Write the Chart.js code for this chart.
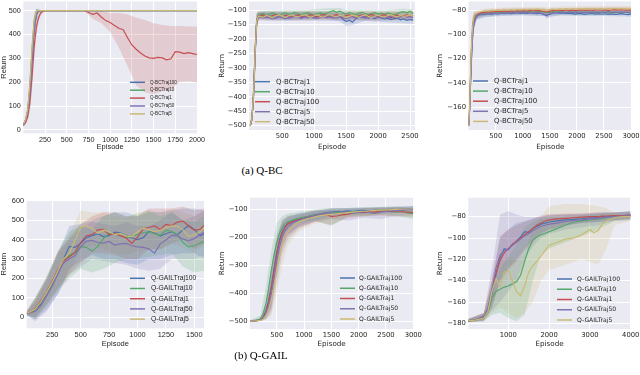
<!DOCTYPE html>
<html>
<head>
<meta charset="utf-8">
<script src="https://cdn.jsdelivr.net/npm/chart.js@4.4.1/dist/chart.umd.min.js"></script>
<style>
  body { margin: 0; background: #fff; width: 640px; height: 375px; overflow: hidden; position: relative; }
  canvas { position: absolute; }
  .cap { position: absolute; font-family: 'Liberation Serif', 'Times New Roman', serif; font-size: 11px; color: #000; transform: translate(-50%, -50%); white-space: nowrap; }
</style>
</head>
<body>
<canvas id="c1"></canvas>
<canvas id="c2"></canvas>
<canvas id="c3"></canvas>
<canvas id="c4"></canvas>
<canvas id="c5"></canvas>
<canvas id="c6"></canvas>
<div class="cap" style="left:262px; top:170px">(a) Q-BC</div>
<div class="cap" style="left:261px; top:355px">(b) Q-GAIL</div>
<script>
// Cores (paleta "deep" do seaborn)
const blue = '#4C72B0', green = '#55A868', red = '#C44E52', purple = '#8172B2', yellow = '#CCB974';

// ---------- (a) Q-BC, painel 1 ----------
const bcCartX = [0, 25, 50, 75, 100, 125, 150, 175, 200, 225, 250, 300, 400, 500, 600, 700,
  750, 800, 850, 900, 950, 1000, 1050, 1100, 1150, 1200, 1250, 1300, 1350, 1400, 1450,
  1500, 1550, 1600, 1650, 1700, 1750, 1800, 1850, 1900, 1950, 2000];
const bcCart100 = [18, 35, 70, 160, 300, 430, 485, 498, 500, 500,
  500, 500, 500, 500, 500, 500, 500, 500, 500, 500,
  500, 500, 500, 500, 500, 500, 500, 500, 500, 500,
  500, 500, 500, 500, 500, 500, 500, 500, 500, 500, 500, 500];
const bcCart10 = [20, 38, 80, 180, 330, 455, 495, 500, 500, 500,
  500, 500, 500, 500, 500, 500, 500, 500, 500, 500,
  500, 500, 500, 500, 500, 500, 500, 500, 500, 500,
  500, 500, 500, 500, 500, 500, 500, 500, 500, 500, 500, 500];
const bcCart1 = [20, 30, 55, 110, 220, 350, 430, 470, 490, 497,
  500, 500, 500, 500, 500, 500, 492, 484, 490, 472,
  458, 450, 438, 426, 420, 386, 356, 338, 322, 310,
  302, 300, 304, 302, 294, 298, 328, 326, 320, 324, 320, 316];
const bcCart50 = [25, 40, 75, 150, 280, 410, 480, 498, 500, 500,
  500, 500, 500, 500, 500, 500, 500, 500, 500, 500,
  500, 500, 500, 500, 500, 500, 500, 500, 500, 500,
  500, 500, 500, 500, 500, 500, 500, 500, 500, 500, 500, 500];
const bcCart5 = [22, 40, 85, 190, 340, 460, 498, 500, 500, 500,
  500, 500, 500, 500, 500, 500, 500, 500, 500, 500,
  500, 500, 500, 500, 500, 500, 500, 500, 500, 500,
  500, 500, 500, 500, 500, 500, 500, 500, 500, 500, 500, 500];
const bcCartBandX = [0, 25, 50, 75, 100, 125, 150, 175, 200, 250, 700, 750, 800, 900, 1000,
  1100, 1200, 1300, 1400, 1500, 1600, 1700, 1800, 1900, 2000];
const bcCart100Lo = [13, 27, 52, 125, 255, 390, 465, 492, 500, 500, 500, 500, 500, 500, 500, 500, 500, 500, 500, 500, 500, 500, 500, 500, 500];
const bcCart100Hi = [23, 45, 92, 200, 345, 470, 508, 505, 500, 500, 500, 500, 500, 500, 500, 500, 500, 500, 500, 500, 500, 500, 500, 500, 500];
const bcCart10Lo = [15, 30, 60, 145, 290, 425, 485, 497, 500, 500, 500, 500, 500, 500, 500, 500, 500, 500, 500, 500, 500, 500, 500, 500, 500];
const bcCart10Hi = [25, 46, 100, 215, 370, 485, 505, 503, 500, 500, 500, 500, 500, 500, 500, 500, 500, 500, 500, 500, 500, 500, 500, 500, 500];
const bcCart1Lo = [15, 22, 38, 75, 165, 290, 395, 450, 478, 500, 500, 482, 466, 447, 410, 345, 268, 188, 158, 150, 162, 168, 202, 204, 199];
const bcCart1Hi = [25, 38, 72, 145, 275, 410, 465, 490, 502, 500, 500, 500, 500, 500, 490, 490, 485, 470, 460, 447, 440, 435, 435, 433, 433];
const bcCart50Lo = [18, 30, 55, 115, 235, 370, 460, 490, 500, 500, 500, 500, 500, 500, 500, 500, 500, 500, 500, 500, 500, 500, 500, 500, 500];
const bcCart50Hi = [32, 50, 95, 185, 325, 450, 505, 508, 502, 500, 500, 500, 500, 500, 500, 500, 500, 500, 500, 500, 500, 500, 500, 500, 500];
const bcCart5Lo = [16, 30, 65, 155, 300, 430, 488, 498, 500, 500, 500, 500, 500, 500, 500, 500, 500, 500, 500, 500, 500, 500, 500, 500, 500];
const bcCart5Hi = [28, 50, 105, 225, 380, 490, 508, 503, 500, 500, 500, 500, 500, 500, 500, 500, 500, 500, 500, 500, 500, 500, 500, 500, 500];
const bcCartXTicks = [250, 500, 750, 1000, 1250, 1500, 1750, 2000];
const bcCartYTicks = [0, 100, 200, 300, 400, 500];

// ---------- (a) Q-BC, painel 2 ----------
const bcMountX = [0, 25, 50, 75, 100, 125,
  150, 200, 250, 300, 350, 400, 450, 500, 550, 600, 650, 700, 750, 800,
  850, 900, 950, 1000, 1050, 1100, 1150, 1200, 1250, 1300, 1350, 1400, 1450, 1500,
  1550, 1600, 1650, 1700, 1750, 1800, 1850, 1900, 1950, 2000, 2050, 2100, 2150, 2200,
  2250, 2300, 2350, 2400, 2450, 2500, 2550];
const bcMount1 = [-500, -478, -400, -255, -140, -122,
  -118, -122, -126, -120, -124, -128, -122,
  -125, -130, -124, -120, -118, -122, -126,
  -121, -119, -124, -128, -122, -120, -125,
  -121, -118, -124, -127, -122, -132, -140,
  -135, -142, -130, -126, -124, -128, -122,
  -126, -130, -124, -127, -131, -128, -133,
  -130, -128, -134, -131, -136, -133, -135];
const bcMount10 = [-500, -475, -392, -245, -134, -118,
  -116, -112, -118, -114, -110, -116, -119,
  -113, -110, -115, -112, -108, -113, -117,
  -112, -109, -114, -118, -113, -110, -115,
  -111, -106, -102, -108, -104, -110, -114,
  -109, -112, -116, -111, -108, -113, -117,
  -112, -109, -114, -111, -115, -110, -113,
  -117, -112, -108, -106, -110, -104, -112];
const bcMount100 = [-500, -476, -396, -250, -137, -121,
  -120, -117, -121, -125, -119, -116, -121,
  -124, -118, -121, -126, -120, -117, -122,
  -125, -119, -116, -121, -124, -118, -115,
  -120, -124, -119, -116, -121, -125, -119,
  -117, -122, -126, -120, -117, -123, -119,
  -115, -120, -124, -119, -116, -122, -127,
  -121, -118, -123, -120, -117, -122, -119];
const bcMount5 = [-500, -480, -405, -262, -145, -126,
  -124, -128, -123, -127, -131, -125, -122,
  -127, -124, -129, -126, -122, -126, -129,
  -124, -127, -123, -126, -130, -125, -122,
  -127, -124, -128, -125, -122, -126, -130,
  -126, -123, -127, -124, -121, -125, -129,
  -124, -122, -126, -123, -127, -124, -121,
  -125, -128, -124, -121, -125, -123, -126];
const bcMount50 = [-500, -477, -398, -252, -138, -122,
  -121, -125, -119, -122, -126, -120, -117,
  -122, -126, -120, -117, -121, -124, -119,
  -116, -121, -125, -120, -117, -122, -125,
  -119, -116, -121, -124, -118, -121, -126,
  -122, -118, -121, -125, -120, -117, -122,
  -126, -121, -118, -122, -125, -119, -116,
  -121, -124, -119, -122, -120, -117, -121];
const bcMountBandX = [0, 25, 50, 75, 100, 125, 150, 300, 600, 900, 1200, 1400, 1500, 1600, 1800, 2100, 2400, 2550];
const bcMount1Lo = [-500, -495, -440, -320, -170, -135, -130, -135, -136, -134, -133, -140, -155, -152, -138, -142, -146, -148];
const bcMount1Hi = [-495, -450, -350, -200, -115, -108, -106, -106, -108, -106, -105, -110, -118, -115, -112, -115, -118, -120];
const bcMount10Lo = [-500, -495, -440, -320, -165, -130, -128, -126, -125, -124, -122, -120, -124, -124, -125, -125, -122, -124];
const bcMount10Hi = [-495, -450, -350, -200, -110, -104, -103, -102, -100, -100, -94, -93, -100, -100, -100, -101, -96, -98];
const bcMount100Lo = [-500, -495, -440, -320, -170, -135, -132, -133, -134, -132, -132, -135, -133, -134, -135, -134, -135, -133];
const bcMount100Hi = [-495, -450, -350, -200, -112, -106, -106, -105, -106, -104, -106, -108, -105, -106, -105, -106, -104, -105];
const bcMount5Lo = [-500, -495, -440, -320, -172, -138, -136, -138, -137, -138, -138, -137, -140, -137, -137, -137, -135, -137];
const bcMount5Hi = [-495, -450, -350, -200, -114, -110, -110, -112, -112, -112, -112, -111, -114, -111, -110, -111, -108, -110];
const bcMount50Lo = [-500, -495, -440, -320, -170, -134, -132, -134, -133, -133, -131, -132, -135, -132, -133, -134, -133, -132];
const bcMount50Hi = [-495, -450, -350, -200, -112, -106, -108, -108, -106, -106, -105, -106, -110, -106, -106, -108, -106, -106];
const bcMountXTicks = [500, 1000, 1500, 2000, 2500];
const bcMountYTicks = [-100, -150, -200, -250, -300, -350, -400, -450, -500];

// ---------- (a) Q-BC, painel 3 ----------
const bcAcroX = [0, 20, 40, 60, 80, 100, 120, 150,
  180, 240, 300, 360, 420, 480, 540, 600, 660, 720, 780, 840, 900, 960, 1020, 1080,
  1140, 1200, 1260, 1320, 1380, 1440, 1500, 1560, 1620, 1680, 1740, 1800, 1860, 1920,
  1980, 2040, 2100, 2160, 2220, 2280, 2340, 2400, 2460, 2520, 2580, 2640, 2700, 2760,
  2820, 2880, 2940, 3000];
const bcAcro1 = [-175, -160, -132, -110, -96, -90, -87, -85.2,
  -84.2, -83.6, -83.9, -83.1, -83.5, -82.8, -83.2, -82.6,
  -83.0, -82.4, -82.9, -82.5, -82.1, -82.7, -82.3, -82.8,
  -82.2, -82.6, -82.9, -82.4, -83.6, -84.6, -83.4, -82.6,
  -82.2, -82.7, -82.3, -82.8, -82.5, -82.9, -83.3, -82.8,
  -83.2, -83.6, -83.1, -82.7, -83.3, -83.0, -83.5, -83.1,
  -83.6, -83.2, -83.7, -83.4, -83.0, -83.5, -83.8, -83.4];
const bcAcro10 = [-175, -158, -128, -106, -93, -88, -85.6, -84.2,
  -83.4, -82.9, -82.5, -82.8, -82.2, -82.0, -82.4, -81.8,
  -82.1, -81.6, -81.9, -81.5, -81.8, -81.4, -81.7, -81.3,
  -81.6, -81.9, -81.5, -81.2, -81.6, -82.2, -81.8, -81.4,
  -81.7, -81.3, -81.6, -81.9, -81.5, -81.8, -82.1, -81.7,
  -82.0, -81.6, -81.9, -82.3, -81.8, -82.1, -81.7, -82.0,
  -82.4, -81.9, -82.2, -81.8, -82.1, -81.7, -82.0, -81.8];
const bcAcro100 = [-175, -157, -126, -104, -92, -87, -84.8, -83.6,
  -83.0, -82.2, -81.9, -81.5, -81.8, -81.2, -81.0, -81.4,
  -80.9, -81.2, -80.7, -81.0, -80.6, -80.9, -80.5, -80.8,
  -80.4, -80.7, -80.3, -80.6, -81.2, -81.8, -80.9, -80.5,
  -80.2, -80.6, -80.3, -80.0, -80.4, -80.1, -80.5, -80.2,
  -79.9, -80.3, -80.0, -80.4, -80.1, -79.8, -80.2, -79.9,
  -80.3, -80.0, -79.7, -80.1, -79.8, -80.2, -79.9, -80.1];
const bcAcro5 = [-175, -161, -134, -112, -97, -91, -87.8, -85.6,
  -83.8, -83.2, -83.5, -82.9, -83.2, -82.6, -82.9, -82.4,
  -82.7, -82.2, -82.5, -82.0, -82.4, -81.9, -82.3, -81.8,
  -82.2, -82.5, -82.0, -82.4, -83.2, -84.0, -83.0, -82.3,
  -81.9, -82.3, -81.8, -82.1, -81.7, -82.0, -81.6, -82.0,
  -81.7, -82.1, -81.8, -81.5, -81.9, -81.6, -82.0, -81.7,
  -81.4, -81.8, -81.5, -81.9, -81.6, -82.0, -81.7, -81.9];
const bcAcro50 = [-175, -156, -124, -102, -90, -85.5, -83.6, -82.8,
  -82.0, -81.2, -80.6, -80.9, -80.3, -80.6, -80.1, -80.4,
  -79.9, -80.2, -79.8, -80.1, -79.6, -79.9, -79.5, -79.8,
  -79.4, -79.7, -79.3, -79.6, -79.9, -80.3, -79.7, -79.3,
  -79.6, -79.2, -79.5, -79.1, -79.4, -79.0, -79.3, -78.9,
  -79.2, -78.8, -79.1, -78.7, -79.0, -79.3, -78.9, -79.2,
  -78.8, -79.1, -78.7, -79.0, -78.6, -78.9, -79.2, -78.8];
const bcAcroBandX = [0, 20, 40, 60, 80, 100, 150, 300, 600, 1000, 1400, 1450, 1500, 1700, 2000, 2500, 3000];
const bcAcro1Lo = [-177, -168, -145, -122, -104, -95, -87.5, -86, -85, -84.5, -85, -87, -85.5, -84.5, -85, -85, -85.5];
const bcAcro1Hi = [-173, -150, -118, -98, -88, -84, -83, -82, -81, -80.5, -81, -82, -81.5, -80.5, -81, -81.2, -81.5];
const bcAcro10Lo = [-177, -166, -141, -118, -101, -93, -86.5, -84.5, -83.8, -83.5, -83.5, -84.2, -83.8, -83.5, -83.8, -84, -84];
const bcAcro10Hi = [-173, -148, -114, -94, -86, -83, -82, -80.5, -80, -79.5, -79.8, -80.3, -80, -79.8, -80, -80.2, -80];
const bcAcro100Lo = [-177, -165, -139, -116, -99, -92, -85.5, -83.5, -82.8, -82.5, -82.5, -83.5, -82.8, -82.2, -82, -81.8, -81.8];
const bcAcro100Hi = [-173, -147, -112, -92, -85, -82, -81.5, -80, -79, -78.5, -78.5, -79.5, -79, -78.4, -78.2, -78, -78];
const bcAcro5Lo = [-177, -168, -147, -124, -105, -96, -88, -85.5, -84.5, -84, -85, -86.5, -85.5, -84, -83.8, -83.5, -83.5];
const bcAcro5Hi = [-173, -151, -120, -99, -89, -85, -83.2, -81.5, -80.5, -80, -80.5, -81.5, -80.8, -79.8, -79.6, -79.5, -79.5];
const bcAcro50Lo = [-177, -164, -137, -114, -97, -90, -84.5, -82.5, -81.8, -81.2, -81, -82, -81.5, -80.8, -80.6, -80.5, -80.5];
const bcAcro50Hi = [-173, -146, -110, -90, -83, -80.5, -80.5, -78.8, -78, -77.5, -77.3, -78.2, -77.8, -77.2, -77, -76.8, -76.6];
const bcAcroXTicks = [500, 1000, 1500, 2000, 2500, 3000];
const bcAcroYTicks = [-80, -100, -120, -140, -160];

// ---------- (b) Q-GAIL, painel 4 ----------
const gailCartX = [25, 50, 100, 150, 200, 250, 300, 350, 400, 450, 500, 550, 600, 650, 700, 750,
  800, 850, 900, 950, 1000, 1050, 1100, 1150, 1200, 1250, 1300, 1350, 1400, 1450, 1500, 1550, 1590];
const gailCart100 = [20, 22, 35, 68, 115, 165, 225, 300, 365, 360, 380, 410, 420, 430, 415, 420,
  438, 435, 420, 408, 400, 410, 442, 435, 418, 430, 440, 425, 450, 472, 452, 420, 430];
const gailCart10 = [20, 23, 40, 78, 125, 175, 240, 295, 320, 330, 365, 360, 340, 365, 405, 432,
  428, 420, 410, 418, 425, 435, 440, 430, 422, 448, 442, 425, 385, 362, 368, 382, 390];
const gailCart1 = [22, 25, 45, 85, 130, 185, 245, 290, 310, 335, 385, 420, 425, 450, 452, 425,
  430, 420, 408, 380, 412, 455, 462, 470, 452, 478, 472, 490, 495, 470, 448, 452, 475];
const gailCart50 = [20, 22, 30, 60, 110, 160, 225, 280, 300, 318, 362, 392, 396, 385, 382, 390,
  372, 378, 380, 368, 362, 360, 352, 330, 378, 398, 422, 420, 402, 395, 405, 425, 440];
const gailCart5 = [22, 26, 42, 80, 128, 180, 240, 300, 330, 395, 462, 470, 458, 432, 448, 440,
  425, 432, 418, 415, 440, 458, 452, 440, 448, 462, 470, 468, 450, 415, 425, 440, 465];
const gailCartBandX = [25, 100, 200, 300, 400, 500, 600, 700, 800, 900, 1000, 1100, 1200, 1300, 1400, 1500, 1590];
const gailCart100Lo = [10, -10, 40, 120, 250, 290, 320, 300, 300, 280, 270, 300, 300, 320, 330, 330, 300];
const gailCart100Hi = [30, 90, 200, 330, 470, 480, 500, 520, 540, 540, 520, 540, 540, 550, 560, 560, 550];
const gailCart10Lo = [10, -10, 60, 140, 200, 250, 230, 250, 280, 300, 300, 310, 320, 330, 260, 230, 240];
const gailCart10Hi = [30, 100, 210, 340, 440, 470, 450, 520, 540, 520, 530, 550, 520, 540, 500, 490, 520];
const gailCart1Lo = [10, 0, 70, 150, 220, 280, 330, 330, 320, 300, 300, 350, 350, 380, 400, 350, 380];
const gailCart1Hi = [35, 100, 200, 340, 410, 480, 520, 540, 540, 520, 520, 560, 560, 560, 570, 550, 560];
const gailCart50Lo = [10, -20, 30, 120, 220, 260, 300, 290, 280, 270, 250, 240, 250, 300, 300, 300, 320];
const gailCart50Hi = [30, 80, 190, 330, 400, 460, 490, 480, 470, 490, 470, 470, 500, 540, 500, 520, 550];
const gailCart5Lo = [10, 0, 60, 140, 230, 350, 370, 350, 330, 320, 340, 350, 350, 380, 360, 330, 370];
const gailCart5Hi = [35, 100, 210, 340, 430, 550, 540, 540, 520, 510, 540, 550, 540, 560, 540, 520, 550];
const gailCartXTicks = [250, 500, 750, 1000, 1250, 1500];
const gailCartYTicks = [0, 100, 200, 300, 400, 500, 600];

// ---------- (b) Q-GAIL, painel 5 ----------
const gailMountX = [0, 100, 200, 250, 300, 350, 400, 450, 500, 550, 600, 650, 700, 800, 900, 1000,
  1100, 1200, 1300, 1400, 1500, 1600, 1700, 1800, 1900, 2000, 2100, 2200, 2300, 2400, 2500,
  2600, 2700, 2800, 2900, 3000];
const gailMount100 = [-500, -500, -496, -488, -465, -430, -380, -315, -255, -210, -180, -162, -152, -142, -136, -130,
  -124, -120, -116, -112, -110, -108, -109, -106, -108, -105, -104, -106, -103, -104, -102,
  -100, -101, -99, -98, -97];
const gailMount10 = [-500, -499, -492, -475, -440, -385, -320, -265, -220, -188, -165, -152, -145, -138, -132, -128,
  -125, -122, -118, -114, -112, -110, -115, -112, -108, -112, -110, -108, -112, -106, -105,
  -108, -110, -106, -114, -116];
const gailMount1 = [-500, -500, -497, -490, -470, -435, -385, -322, -262, -215, -185, -165, -153, -144, -138, -132,
  -128, -124, -120, -118, -126, -124, -120, -118, -112, -110, -112, -108, -110, -107, -106,
  -108, -105, -109, -110, -112];
const gailMount50 = [-500, -500, -497, -491, -475, -448, -405, -350, -285, -235, -200, -178, -163, -148, -140, -133,
  -127, -123, -118, -114, -113, -115, -112, -110, -114, -111, -108, -112, -115, -110, -108,
  -106, -104, -103, -101, -100];
const gailMount5 = [-500, -500, -498, -494, -482, -460, -425, -378, -322, -268, -228, -200, -182, -160, -146, -138,
  -132, -127, -123, -120, -118, -116, -114, -112, -110, -108, -107, -106, -104, -103, -102,
  -101, -100, -99, -99, -98];
const gailMountBandX = [0, 200, 300, 400, 500, 600, 700, 900, 1200, 1500, 1800, 2100, 2400, 2700, 3000];
const gailMount100Lo = [-502, -500, -490, -450, -320, -230, -190, -160, -140, -125, -120, -118, -115, -112, -110];
const gailMount100Hi = [-498, -490, -440, -310, -190, -140, -125, -115, -105, -96, -95, -93, -92, -90, -88];
const gailMount10Lo = [-502, -500, -470, -380, -280, -200, -170, -150, -140, -160, -125, -125, -120, -125, -135];
const gailMount10Hi = [-498, -480, -380, -250, -150, -125, -115, -110, -100, -95, -95, -94, -92, -90, -95];
const gailMount1Lo = [-502, -500, -490, -455, -330, -240, -195, -165, -145, -155, -130, -125, -122, -125, -128];
const gailMount1Hi = [-498, -492, -450, -320, -200, -140, -125, -118, -105, -100, -100, -96, -94, -94, -96];
const gailMount50Lo = [-502, -500, -495, -470, -370, -260, -210, -170, -145, -135, -140, -130, -135, -125, -120];
const gailMount50Hi = [-498, -494, -460, -345, -210, -150, -130, -118, -105, -98, -95, -95, -96, -92, -88];
const gailMount5Lo = [-502, -500, -497, -480, -400, -300, -230, -180, -150, -135, -128, -122, -118, -115, -112];
const gailMount5Hi = [-498, -496, -470, -380, -250, -170, -145, -125, -110, -104, -100, -96, -94, -92, -90];
const gailMountXTicks = [500, 1000, 1500, 2000, 2500, 3000];
const gailMountYTicks = [-100, -200, -300, -400, -500];

// ---------- (b) Q-GAIL, painel 6 ----------
const gailAcroX = [0, 200, 400, 500, 600, 700, 800, 900, 1000, 1100, 1200, 1300, 1400, 1500, 1600, 1700,
  1800, 1900, 2000, 2200, 2400, 2600, 2800, 3000, 3100, 3200, 3300, 3400, 3600, 3800, 4000];
const gailAcro100 = [-177.5, -177, -174, -168, -152, -134, -118, -110, -111, -106, -103, -99, -94, -95, -91, -89,
  -87, -86, -85, -84, -83, -82.5, -82, -81, -81, -80.5, -80, -80, -79.5, -79, -78.5];
const gailAcro10 = [-177.5, -177, -175, -170, -156, -150, -148, -146, -145, -143, -141, -135, -122, -110, -102, -99,
  -97, -95.5, -94, -91, -88, -85, -84, -83, -82.5, -82, -81.5, -81, -80, -79.5, -79];
const gailAcro1 = [-177.5, -177, -174, -167, -150, -133, -121, -114, -110, -106, -103, -100, -97, -94, -91, -88,
  -86, -84, -83, -82, -81.5, -81, -80.5, -80, -80, -80, -79.5, -79.5, -79, -79, -78.5];
const gailAcro50 = [-177.5, -177, -173, -166, -148, -128, -116, -112, -110, -107, -104, -101, -98, -96, -93, -91,
  -89, -88, -87, -86, -84.5, -83.5, -83, -82, -82, -81.5, -81, -80.5, -80, -79.5, -79];
const gailAcro5 = [-177.5, -177, -175, -169, -150, -138, -146, -132, -131, -140, -150, -154, -145, -132, -126, -122,
  -117, -112, -107, -104, -101, -100, -97, -92, -95, -93, -87, -84, -81, -80, -80];
const gailAcroBandX = [0, 400, 600, 800, 1000, 1200, 1400, 1600, 1800, 2000, 2400, 2800, 3200, 3400, 3600, 4000];
const gailAcro100Lo = [-179, -177, -165, -140, -128, -120, -110, -102, -96, -92, -88, -86, -85, -84, -83, -82];
const gailAcro100Hi = [-176, -171, -140, -100, -92, -86, -84, -82, -80, -79, -78, -78, -77, -76, -76, -75];
const gailAcro10Lo = [-179, -178, -172, -170, -175, -178, -172, -140, -115, -110, -104, -98, -92, -88, -84, -83];
const gailAcro10Hi = [-176, -172, -148, -128, -118, -106, -90, -84, -82, -81, -80, -79, -77, -77, -76, -76];
const gailAcro1Lo = [-179, -177, -165, -140, -130, -122, -112, -104, -96, -92, -88, -86, -85, -84, -83, -82];
const gailAcro1Hi = [-176, -170, -138, -98, -92, -88, -85, -82, -79, -78, -77, -77, -76, -76, -76, -75];
const gailAcro50Lo = [-179, -178, -168, -160, -150, -140, -120, -108, -100, -96, -92, -90, -88, -86, -84, -83];
const gailAcro50Hi = [-176, -170, -128, -78, -75, -78, -80, -80, -80, -78, -78, -77, -76, -76, -76, -75];
const gailAcro5Lo = [-179, -178, -170, -165, -170, -175, -170, -160, -140, -130, -125, -120, -125, -110, -88, -84];
const gailAcro5Hi = [-176, -170, -140, -120, -118, -120, -115, -90, -80, -70, -68, -68, -70, -72, -76, -76];
const gailAcroXTicks = [1000, 2000, 3000, 4000];
const gailAcroYTicks = [-80, -100, -120, -140, -160, -180];

// ---------- Montagem ----------
function serie(label, color, x, mean, bandX, lo, hi) {
  return { label, color, x, mean, bandX, lo, hi };
}

const paineis = [
  {
    id: 'c1', left: 0, top: 0, width: 212, height: 158,
    area: { left: 23.3, top: 1.5, right: 197, bottom: 133.3 },
    xMin: 0, xMax: 2000, yMin: -14, yMax: 538,
    xTicks: bcCartXTicks, yTicks: bcCartYTicks,
    family: "'Liberation Sans', Arial, sans-serif", tickSize: 7.2, titleSize: 7.5,
    yTitleX: 4, xTitleY: 147,
    legend: { x0: 130, x1: 145, tx: 150, y: 82.3, dy: 7.9, size: 4.6 },
    series: [
      serie('Q-BCTraj100', blue, bcCartX, bcCart100, bcCartBandX, bcCart100Lo, bcCart100Hi),
      serie('Q-BCTraj10', green, bcCartX, bcCart10, bcCartBandX, bcCart10Lo, bcCart10Hi),
      serie('Q-BCTraj1', red, bcCartX, bcCart1, bcCartBandX, bcCart1Lo, bcCart1Hi),
      serie('Q-BCTraj50', purple, bcCartX, bcCart50, bcCartBandX, bcCart50Lo, bcCart50Hi),
      serie('Q-BCTraj5', yellow, bcCartX, bcCart5, bcCartBandX, bcCart5Lo, bcCart5Hi)
    ]
  },
  {
    id: 'c2', left: 212, top: 0, width: 212, height: 158,
    area: { left: 249, top: 1.5, right: 415, bottom: 130 },
    xMin: -20, xMax: 2578, yMin: -515, yMax: -70.6,
    xTicks: bcMountXTicks, yTicks: bcMountYTicks,
    family: "'DejaVu Sans', sans-serif", tickSize: 6.8, titleSize: 7.2,
    yTitleX: 222, xTitleY: 147,
    legend: { x0: 255, x1: 270, tx: 276, y: 81.7, dy: 10, size: 7 },
    series: [
      serie('Q-BCTraj1', blue, bcMountX, bcMount1, bcMountBandX, bcMount1Lo, bcMount1Hi),
      serie('Q-BCTraj10', green, bcMountX, bcMount10, bcMountBandX, bcMount10Lo, bcMount10Hi),
      serie('Q-BCTraj100', red, bcMountX, bcMount100, bcMountBandX, bcMount100Lo, bcMount100Hi),
      serie('Q-BCTraj5', purple, bcMountX, bcMount5, bcMountBandX, bcMount5Lo, bcMount5Hi),
      serie('Q-BCTraj50', yellow, bcMountX, bcMount50, bcMountBandX, bcMount50Lo, bcMount50Hi)
    ]
  },
  {
    id: 'c3', left: 424, top: 0, width: 216, height: 158,
    area: { left: 468.5, top: 1.5, right: 632, bottom: 130 },
    xMin: -3, xMax: 3018, yMin: -178.7, yMax: -73,
    xTicks: bcAcroXTicks, yTicks: bcAcroYTicks,
    family: "'DejaVu Sans', sans-serif", tickSize: 6.8, titleSize: 7.2,
    yTitleX: 440, xTitleY: 147,
    legend: { x0: 473, x1: 488, tx: 494, y: 81, dy: 10.1, size: 7 },
    series: [
      serie('Q-BCTraj1', blue, bcAcroX, bcAcro1, bcAcroBandX, bcAcro1Lo, bcAcro1Hi),
      serie('Q-BCTraj10', green, bcAcroX, bcAcro10, bcAcroBandX, bcAcro10Lo, bcAcro10Hi),
      serie('Q-BCTraj100', red, bcAcroX, bcAcro100, bcAcroBandX, bcAcro100Lo, bcAcro100Hi),
      serie('Q-BCTraj5', purple, bcAcroX, bcAcro5, bcAcroBandX, bcAcro5Lo, bcAcro5Hi),
      serie('Q-BCTraj50', yellow, bcAcroX, bcAcro50, bcAcroBandX, bcAcro50Lo, bcAcro50Hi)
    ]
  },
  {
    id: 'c4', left: 0, top: 185, width: 212, height: 165,
    area: { left: 26.7, top: 200, right: 204, bottom: 328.3 },
    xMin: 25, xMax: 1585, yMin: -56.6, yMax: 603.6,
    xTicks: gailCartXTicks, yTicks: gailCartYTicks,
    family: "'Liberation Sans', Arial, sans-serif", tickSize: 7.4, titleSize: 7.5,
    yTitleX: 4, xTitleY: 344,
    legend: { x0: 130, x1: 145, tx: 151, y: 278.3, dy: 10.2, size: 6.8 },
    series: [
      serie('Q-GAILTraj100', blue, gailCartX, gailCart100, gailCartBandX, gailCart100Lo, gailCart100Hi),
      serie('Q-GAILTraj10', green, gailCartX, gailCart10, gailCartBandX, gailCart10Lo, gailCart10Hi),
      serie('Q-GAILTraj1', red, gailCartX, gailCart1, gailCartBandX, gailCart1Lo, gailCart1Hi),
      serie('Q-GAILTraj50', purple, gailCartX, gailCart50, gailCartBandX, gailCart50Lo, gailCart50Hi),
      serie('Q-GAILTraj5', yellow, gailCartX, gailCart5, gailCartBandX, gailCart5Lo, gailCart5Hi)
    ]
  },
  {
    id: 'c5', left: 212, top: 185, width: 212, height: 165,
    area: { left: 250, top: 197.7, right: 413.3, bottom: 329 },
    xMin: 11, xMax: 3000, yMin: -528.6, yMax: -58.5,
    xTicks: gailMountXTicks, yTicks: gailMountYTicks,
    family: "'DejaVu Sans', sans-serif", tickSize: 6.8, titleSize: 7.2,
    yTitleX: 222, xTitleY: 344,
    legend: { x0: 340, x1: 355, tx: 359, y: 278, dy: 10.25, size: 6.1 },
    series: [
      serie('Q-GAILTraj100', blue, gailMountX, gailMount100, gailMountBandX, gailMount100Lo, gailMount100Hi),
      serie('Q-GAILTraj10', green, gailMountX, gailMount10, gailMountBandX, gailMount10Lo, gailMount10Hi),
      serie('Q-GAILTraj1', red, gailMountX, gailMount1, gailMountBandX, gailMount1Lo, gailMount1Hi),
      serie('Q-GAILTraj50', purple, gailMountX, gailMount50, gailMountBandX, gailMount50Lo, gailMount50Hi),
      serie('Q-GAILTraj5', yellow, gailMountX, gailMount5, gailMountBandX, gailMount5Lo, gailMount5Hi)
    ]
  },
  {
    id: 'c6', left: 424, top: 185, width: 216, height: 165,
    area: { left: 468.3, top: 197.7, right: 630.7, bottom: 329 },
    xMin: 20, xMax: 4000, yMin: -185.3, yMax: -62.2,
    xTicks: gailAcroXTicks, yTicks: gailAcroYTicks,
    family: "'DejaVu Sans', sans-serif", tickSize: 6.8, titleSize: 7.2,
    yTitleX: 440, xTitleY: 344,
    legend: { x0: 557, x1: 572, tx: 577, y: 279, dy: 10.25, size: 6.1 },
    series: [
      serie('Q-GAILTraj100', blue, gailAcroX, gailAcro100, gailAcroBandX, gailAcro100Lo, gailAcro100Hi),
      serie('Q-GAILTraj10', green, gailAcroX, gailAcro10, gailAcroBandX, gailAcro10Lo, gailAcro10Hi),
      serie('Q-GAILTraj1', red, gailAcroX, gailAcro1, gailAcroBandX, gailAcro1Lo, gailAcro1Hi),
      serie('Q-GAILTraj50', purple, gailAcroX, gailAcro50, gailAcroBandX, gailAcro50Lo, gailAcro50Hi),
      serie('Q-GAILTraj5', yellow, gailAcroX, gailAcro5, gailAcroBandX, gailAcro5Lo, gailAcro5Hi)
    ]
  }
];

function fade(hex, a) {
  const n = parseInt(hex.slice(1), 16);
  return `rgba(${n >> 16}, ${(n >> 8) & 255}, ${n & 255}, ${a})`;
}

function pontos(xs, ys) {
  return xs.map((x, i) => ({ x: x, y: ys[i] }));
}

function fmtTick(v) {
  return String(v).replace('-', '\u2212');
}

// bandas primeiro (atrás), depois as linhas médias; a última série fica por cima
function montarDatasets(series) {
  const sets = [];
  series.forEach(s => {
    const loIndex = sets.length;
    sets.push({
      data: pontos(s.bandX, s.lo), borderWidth: 0, borderColor: 'transparent',
      pointRadius: 0, fill: false, order: 100
    });
    sets.push({
      data: pontos(s.bandX, s.hi), borderWidth: 0, borderColor: 'transparent',
      pointRadius: 0, fill: { target: loIndex }, backgroundColor: fade(s.color, 0.2), order: 100
    });
  });
  series.forEach((s, i) => {
    sets.push({
      label: s.label, data: pontos(s.x, s.mean), borderColor: s.color, borderWidth: 1.2,
      pointRadius: 0, fill: false, order: 50 - i
    });
  });
  return sets;
}

function desenharPainel(p) {
  const canvas = document.getElementById(p.id);
  canvas.width = p.width;
  canvas.height = p.height;
  canvas.style.left = p.left + 'px';
  canvas.style.top = p.top + 'px';

  const yAxisW = p.area.left - p.left;
  const xAxisH = p.top + p.height - p.area.bottom;
  const tickFont = { family: p.family, size: p.tickSize };
  const titleFont = { family: p.family, size: p.titleSize, lineHeight: 1 };

  // fundo cinza do seaborn
  const fundo = {
    id: 'fundo' + p.id,
    beforeDraw(chart) {
      const a = chart.chartArea;
      const ctx = chart.ctx;
      ctx.save();
      ctx.fillStyle = '#EAEAF2';
      ctx.fillRect(a.left, a.top, a.right - a.left, a.bottom - a.top);
      ctx.restore();
    }
  };

  // legenda dentro da área do gráfico
  const legenda = {
    id: 'legenda' + p.id,
    afterDatasetsDraw(chart) {
      const ctx = chart.ctx;
      const lg = p.legend;
      ctx.save();
      ctx.font = `${lg.size}px ${p.family}`;
      ctx.textBaseline = 'middle';
      p.series.forEach((s, i) => {
        const y = lg.y + i * lg.dy - p.top;
        ctx.strokeStyle = s.color;
        ctx.lineWidth = 1.5;
        ctx.beginPath();
        ctx.moveTo(lg.x0 - p.left, y);
        ctx.lineTo(lg.x1 - p.left, y);
        ctx.stroke();
        ctx.fillStyle = '#262626';
        ctx.fillText(s.label, lg.tx - p.left, y);
      });
      ctx.restore();
    }
  };

  new Chart(canvas, {
    type: 'line',
    data: { datasets: montarDatasets(p.series) },
    options: {
      responsive: false,
      animation: false,
      events: [],
      layout: {
        autoPadding: false,
        padding: { left: 0, top: p.area.top - p.top, right: p.left + p.width - p.area.right, bottom: 0 }
      },
      plugins: { legend: { display: false }, tooltip: { enabled: false } },
      scales: {
        x: {
          type: 'linear', min: p.xMin, max: p.xMax,
          afterBuildTicks: s => { s.ticks = p.xTicks.map(v => ({ value: v })); },
          afterFit: s => {
            s.height = xAxisH;
            s.paddingLeft = 0; s.paddingRight = 0; s.paddingTop = 0; s.paddingBottom = 0;
          },
          grid: { color: '#ffffff', lineWidth: 1, drawTicks: false },
          border: { display: false },
          ticks: { font: tickFont, color: '#262626', padding: 2, autoSkip: false, maxRotation: 0, callback: fmtTick },
          title: {
            display: true, text: 'Episode', font: titleFont, color: '#262626',
            padding: { top: 0, bottom: p.top + p.height - p.xTitleY - p.titleSize / 2 }
          }
        },
        y: {
          type: 'linear', min: p.yMin, max: p.yMax,
          afterBuildTicks: s => { s.ticks = p.yTicks.map(v => ({ value: v })); },
          afterFit: s => {
            s.width = yAxisW;
            s.paddingLeft = 0; s.paddingRight = 0; s.paddingTop = 0; s.paddingBottom = 0;
          },
          grid: { color: '#ffffff', lineWidth: 1, drawTicks: false },
          border: { display: false },
          ticks: { font: tickFont, color: '#262626', padding: 2.5, autoSkip: false, callback: fmtTick },
          title: {
            display: true, text: 'Return', font: titleFont, color: '#262626',
            padding: { top: p.yTitleX - p.left - p.titleSize / 2, bottom: 0 }
          }
        }
      }
    },
    plugins: [fundo, legenda]
  });
}

paineis.forEach(desenharPainel);
</script>
</body>
</html>
